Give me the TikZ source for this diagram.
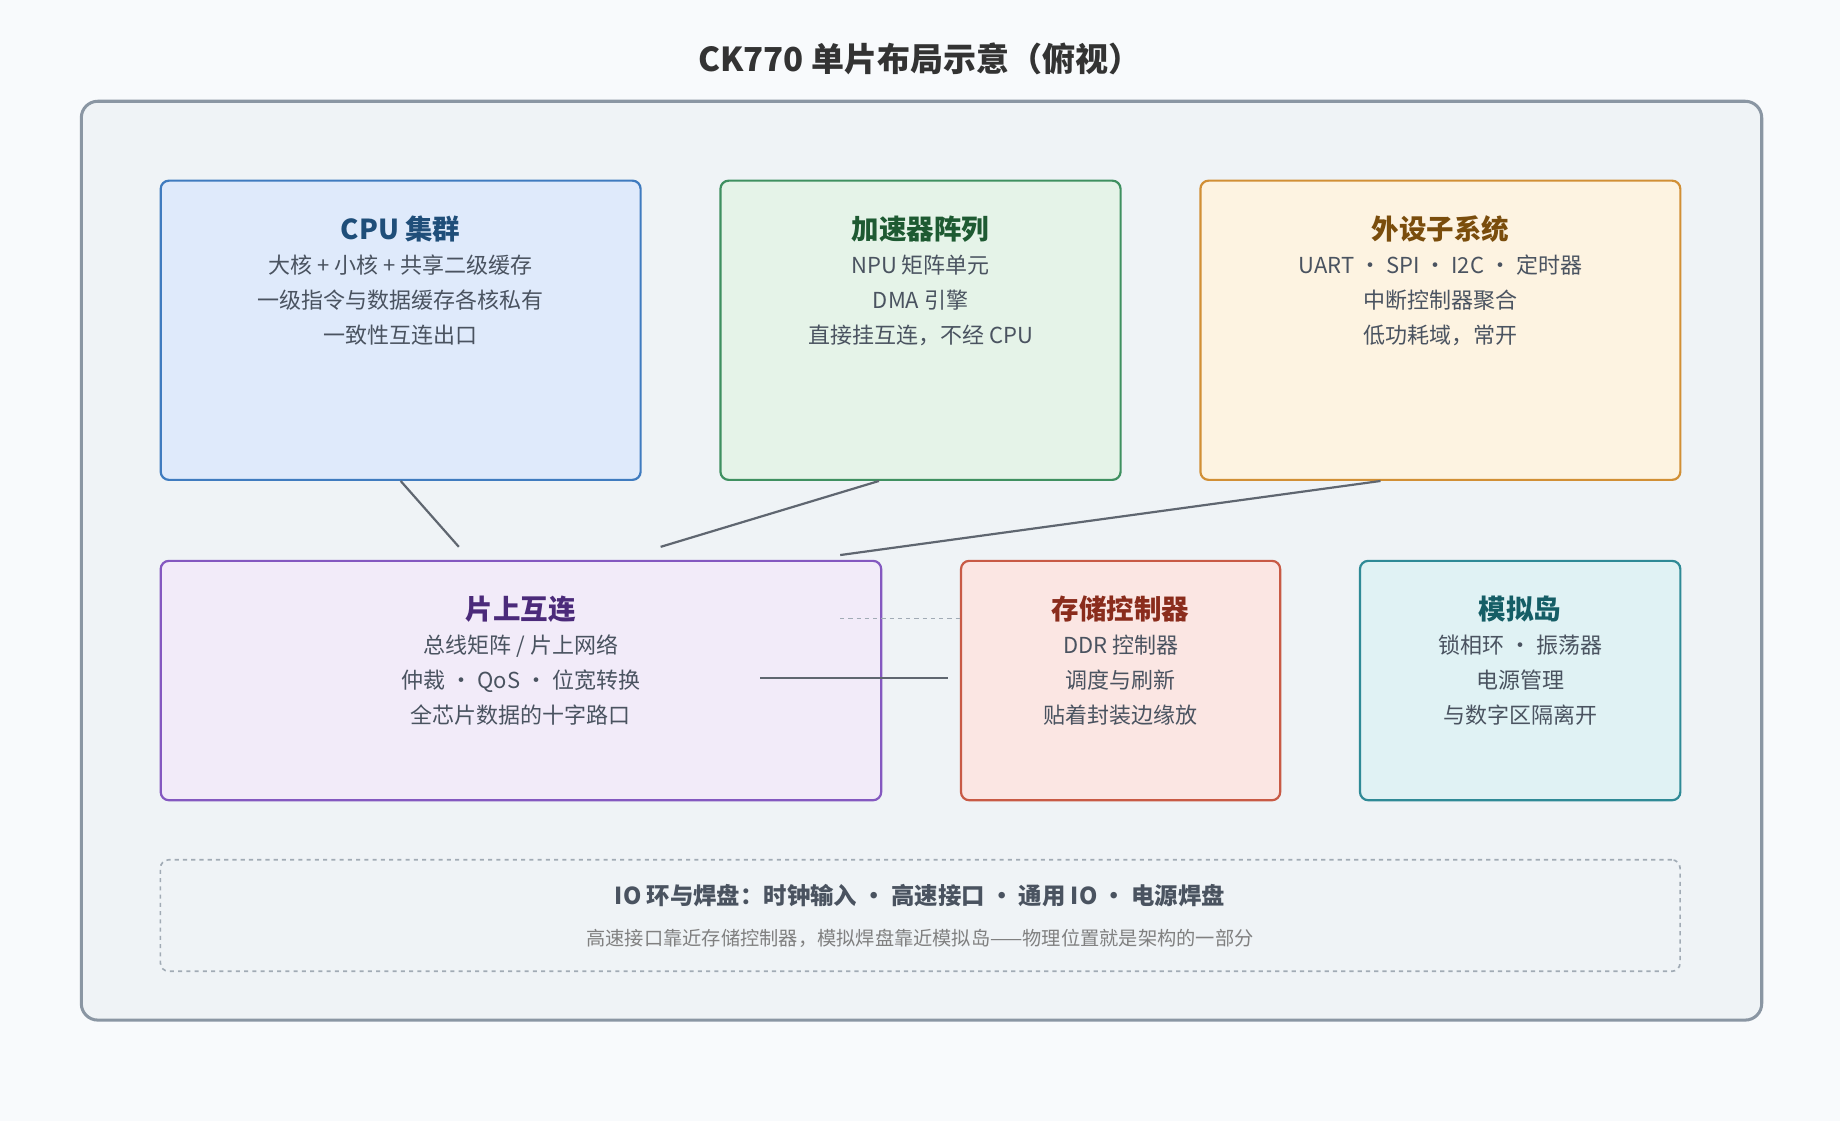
\documentclass[tikz,border=0pt]{standalone}
\usepackage{fontspec}
\setmainfont{Noto Sans CJK SC}
\usetikzlibrary{positioning}
\definecolor{pagebg}{HTML}{F8FAFC}
\definecolor{chipfill}{HTML}{EFF3F6}
\definecolor{chipline}{HTML}{8A96A3}
\definecolor{wire}{HTML}{5F6670}
\definecolor{txt}{HTML}{4A5360}
\definecolor{cA}{HTML}{3F7BBF}\definecolor{fA}{HTML}{DFEAFB}\definecolor{tA}{HTML}{1F4E79}
\definecolor{cB}{HTML}{3F9060}\definecolor{fB}{HTML}{E5F3E8}\definecolor{tB}{HTML}{1E5A32}
\definecolor{cC}{HTML}{D18F35}\definecolor{fC}{HTML}{FDF3E1}\definecolor{tC}{HTML}{7A4D0C}
\definecolor{cD}{HTML}{8458C0}\definecolor{fD}{HTML}{F2EBF9}\definecolor{tD}{HTML}{4B2A7A}
\definecolor{cE}{HTML}{C85A45}\definecolor{fE}{HTML}{FBE6E3}\definecolor{tE}{HTML}{8A2C1C}
\definecolor{cF}{HTML}{2F8A96}\definecolor{fF}{HTML}{E0F2F4}\definecolor{tF}{HTML}{155E66}
\tikzset{
  blk/.style={draw,line width=1.6pt,rounded corners=6pt,anchor=north west,inner sep=0pt},
  ttl/.style={font=\fontsize{20}{24}\selectfont\bfseries},
  ln/.style={font=\fontsize{16}{20}\selectfont,text=txt,align=center},
  wire/.style={draw=wire,line width=1.6pt}
}
% box: name, x, y, w, h, line, fill, title colour, title, lines
\newcommand{\chipblk}[9]{%
  \node (#1) [blk,draw=c#6,fill=f#6,minimum width=#4*0.03cm,minimum height=#5*0.03cm] at (#2,#3) {};
  \node (#1-t) [ttl,text=t#6] at ($(#1.north)+(0,42)$) {#7};
  \node (#1-l) [ln,below=2pt of #1-t,font=\fontsize{16}{25.5}\selectfont] {#8};
}
\usetikzlibrary{calc}
\begin{document}
\begin{tikzpicture}[x=0.03cm,y=-0.03cm]
\fill[pagebg] (0,0) rectangle (1568,955);
\useasboundingbox (0,0) rectangle (1568,955);
\node (title) [font=\fontsize{24}{28}\selectfont\bfseries,text=black!80] at (784,50) {CK770 单片布局示意（俯视）};
\node (chip) [draw=chipline,fill=chipfill,line width=2.2pt,rounded corners=12pt,anchor=north west,
  minimum width=1432*0.03cm,minimum height=783*0.03cm] at (68,85) {};

% upper row
\chipblk{cpu}{136}{153}{409}{255}{A}{CPU 集群}{大核 + 小核 + 共享二级缓存\\一级指令与数据缓存各核私有\\一致性互连出口}{}
\chipblk{acc}{613}{153}{341}{255}{B}{加速器阵列}{NPU 矩阵单元\\DMA 引擎\\直接挂互连，不经 CPU}{}
\chipblk{per}{1022}{153}{409}{255}{C}{外设子系统}{UART · SPI · I2C · 定时器\\中断控制器聚合\\低功耗域，常开}{}
% lower row
\chipblk{noc}{136}{477}{614}{204}{D}{片上互连}{总线矩阵 / 片上网络\\仲裁 · QoS · 位宽转换\\全芯片数据的十字路口}{}
\chipblk{mem}{818}{477}{272}{204}{E}{存储控制器}{DDR 控制器\\调度与刷新\\贴着封装边缘放}{}
\chipblk{ana}{1158}{477}{273}{204}{F}{模拟岛}{锁相环 · 振荡器\\电源管理\\与数字区隔离开}{}

% IO ring
\node (io) [draw=chipline!80,dashed,line width=1.2pt,rounded corners=6pt,anchor=north west,
  minimum width=1295*0.03cm,minimum height=95*0.03cm] at (136,732) {};
\node (io-t) [ttl,font=\fontsize{17}{20}\selectfont\bfseries,text=txt] at (784,763) {IO 环与焊盘：时钟输入 • 高速接口 • 通用 IO • 电源焊盘};
\node (io-l) [font=\fontsize{14}{18}\selectfont,text=black!50] at (784,800) {高速接口靠近存储控制器，模拟焊盘靠近模拟岛——物理位置就是架构的一部分};

% wires
\coordinate (j1) at (391,466);
\coordinate (j2) at (563,466);
\coordinate (j3) at (716,473);
\coordinate (m1) at (716,527);
\coordinate (m2) at (648,578);
\coordinate (m3) at (808,578);
\draw[wire] (cpu.south) -- (j1);
\draw[wire] (acc.south west) ++(136,0) -- (j2);
\draw[wire] (per.south) ++(-51,0) -- (j3);
\draw[wire,draw=chipline!80,line width=1pt,dashed] (m1) -- (mem.west |- m1);
\draw[wire] (m2) -- (m3);
\end{tikzpicture}
\end{document}
